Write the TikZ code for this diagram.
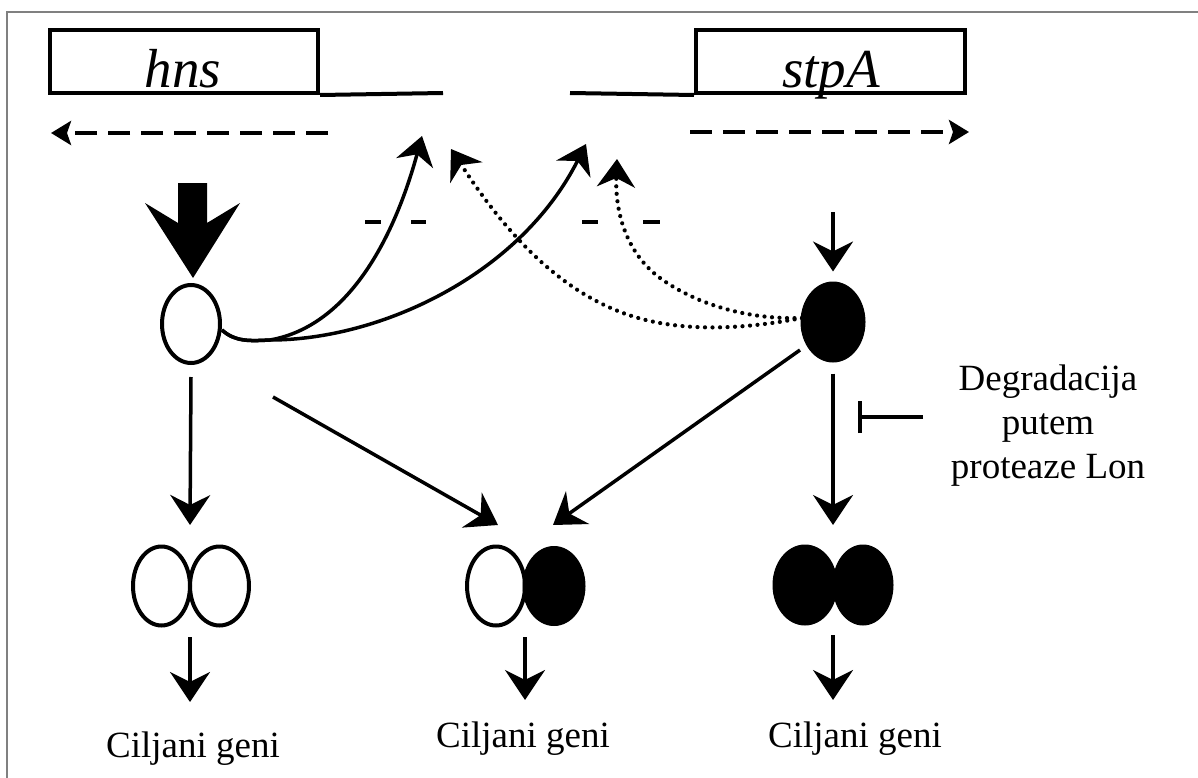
\documentclass[tikz,border=0pt]{standalone}
\usepackage{fontspec}
\setmainfont{Liberation Serif}
\usetikzlibrary{arrows.meta,shapes.geometric}
\begin{document}
\begin{tikzpicture}[x=1pt,y=-1pt,
  ln/.style={line width=3.5pt},
  arr/.style={line width=3.5pt,-{Stealth[length=30pt,width=40pt,inset=10pt]}},
  carr/.style={line width=3.5pt,-{Stealth[length=28pt,width=38pt,inset=9pt]}},
  dotarr/.style={line width=4.2pt, line cap=round, dash pattern=on 0.01pt off 7.5pt,-{Stealth[length=28pt,width=38pt,inset=9pt]}},
  dasharr/.style={line width=4.5pt, dash pattern=on 22pt off 11pt,-{Stealth[length=20pt,width=24pt,inset=4pt]}},
  genebox/.style={draw, line width=4pt, inner sep=0pt},
  ov/.style={ellipse, draw, line width=4pt, inner sep=0pt, minimum height=79pt},
  fv/.style={ellipse, draw, fill=black, line width=1pt, inner sep=0pt, minimum height=80pt},
  lbl/.style={font=\fontsize{37}{43}\selectfont, inner sep=0pt, anchor=base},
  gene/.style={font=\fontsize{55}{60}\selectfont\itshape, inner sep=0pt, anchor=base},
  minus/.style={line width=3.5pt}
]
\useasboundingbox (0,0) rectangle (1198,778);
\fill[white] (0,0) rectangle (1198,778);
% frame
\draw[gray, line width=2pt] (7,778) -- (7,12) -- (1198,12);

% genes
\node[genebox, minimum width=268pt, minimum height=63pt] (hnsBox) at (184,61.5) {};
\node[gene] (hnsT) at (183,88) {hns};
\coordinate (hnsEnd) at (443,93);
\draw[line width=4pt] (hnsBox.south east) -- (hnsEnd);
\node[genebox, minimum width=269pt, minimum height=63pt] (stpBox) at (830.5,61.5) {};
\node[gene] (stpT) at (831,88) {stpA};
\coordinate (stpStart) at (570,93);
\draw[line width=4pt] (stpStart) -- (stpBox.south west);

% transcription arrows
\coordinate (ldS) at (328,133);
\coordinate (ldE) at (51,133);
\draw[dasharr] (ldS) -- (ldE);
\coordinate (rdS) at (690,132);
\coordinate (rdE) at (969,132);
\draw[dasharr] (rdS) -- (rdE);

% big arrow
\fill[black] (178,183) -- (207,183) -- (207,223) -- (240,203) -- (193,278) -- (145,203) -- (178,223) -- cycle;

% proteins
\node[ov, minimum width=58pt, minimum height=78pt] (hnsP) at (191,324) {};
\node[fv, minimum width=64pt] (stpP) at (833,322) {};

% stpA expression arrow
\coordinate (sTop) at (833,212);
\draw[arr] (sTop) -- ([yshift=10pt]stpP.north);

% repression marks
\coordinate (m1a) at (365,222); \coordinate (m1b) at (381,222);
\coordinate (m2a) at (411,222); \coordinate (m2b) at (426,222);
\coordinate (m3a) at (582,222); \coordinate (m3b) at (598,222);
\coordinate (m4a) at (643,222); \coordinate (m4b) at (660,222);
\draw[minus] (m1a) -- (m1b);
\draw[minus] (m2a) -- (m2b);
\draw[minus] (m3a) -- (m3b);
\draw[minus] (m4a) -- (m4b);

% curved arrows from H-NS
\coordinate (junc) at (270,340);
\coordinate (t1) at (422,136);
\coordinate (t2) at (586,144);
\draw[carr] (hnsP.east) ++(0,6) .. controls (235,342) and (250,341) .. (junc) .. controls (350,326) and (395,235) .. (t1);
\draw[carr] (hnsP.east) ++(0,6) .. controls (235,342) and (250,341) .. (junc) .. controls (380,340) and (520,275) .. (t2);

% dotted arrows from StpA
\coordinate (dj) at (802,318);
\coordinate (t3) at (451,149);
\coordinate (t4) at (617,159);
\draw[dotarr] (dj) .. controls (740,330) and (690,330) .. (650,321) .. controls (570,303) and (510,240) .. (t3);
\draw[dotarr] (dj) .. controls (740,320) and (690,300) .. (660,278) .. controls (625,252) and (615,210) .. (t4);

% dimers
\node[ov, minimum width=57pt] (hh1) at (161.5,586) {};
\node[ov, minimum width=59pt] (hh2) at (219.5,586) {};
\node[ov, minimum width=58pt] (hs1) at (496,586) {};
\node[fv, minimum width=62pt, minimum height=79pt] (hs2) at (554,586) {};
\node[fv, minimum width=64pt] (ss1) at (805,585) {};
\node[fv, minimum width=60pt] (ss2) at (863,585) {};

% arrows to dimers
\coordinate (hhTop) at (190,525);
\draw[arr] ([yshift=-12pt]hnsP.south) -- (hhTop);
\coordinate (dg1s) at (273,397);
\coordinate (hsTopL) at (498,525);
\draw[arr] (dg1s) -- (hsTopL);
\coordinate (dg2s) at (800,350);
\coordinate (hsTopR) at (553,525);
\draw[arr] (dg2s) -- (hsTopR);
\coordinate (ssTop) at (833,525);
\draw[arr] ([yshift=-11pt]stpP.south) -- (ssTop);

% Lon inhibition
\coordinate (degL) at (923,417);
\coordinate (degBar) at (858,417);
\draw[line width=3.5pt, -{Bar[width=32pt]}] (degL) -- (degBar);
\node[lbl] (deg1) at (1048,390) {Degradacija};
\node[lbl] (deg2) at (1048,434) {putem};
\node[lbl] (deg3) at (1048,478) {proteaze Lon};

% arrows to target genes
\coordinate (hhB) at (190,637); \coordinate (hhE) at (190,702);
\coordinate (hsB) at (525,637); \coordinate (hsE) at (525,700);
\coordinate (ssB) at (833,635); \coordinate (ssE) at (833,700);
\draw[arr] (hhB) -- (hhE);
\draw[arr] (hsB) -- (hsE);
\draw[arr] (ssB) -- (ssE);

\node[lbl] (cg1) at (193,757) {Ciljani geni};
\node[lbl] (cg2) at (523,747) {Ciljani geni};
\node[lbl] (cg3) at (855,747) {Ciljani geni};
\end{tikzpicture}
\end{document}
